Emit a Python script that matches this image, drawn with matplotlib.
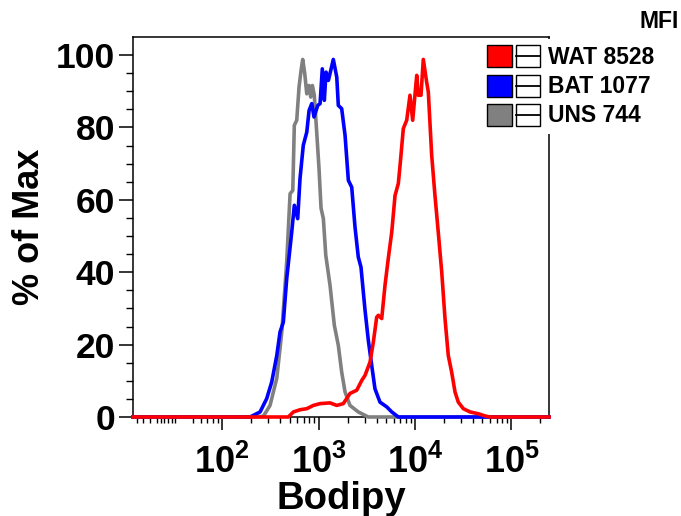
# Bodipy staining histogram (WAT / BAT / unstained), biexponential-style x axis

import numpy as np
import matplotlib.pyplot as plt
from matplotlib.patches import Rectangle
from matplotlib.lines import Line2D

plt.rcParams['font.family'] = ['Liberation Sans', 'DejaVu Sans']
plt.rcParams['font.weight'] = 'bold'
plt.rcParams['mathtext.fontset'] = 'custom'
plt.rcParams['mathtext.rm'] = 'Liberation Sans:bold'
plt.rcParams['mathtext.bf'] = 'Liberation Sans:bold'

# histogram range of the Bodipy channel
x_lo, x_hi = -89, 2.45e5

# samples, colours and MFI values
groups = ["WAT", "BAT", "UNS"]
colors = ["#ff0000", "#0000ff", "#808080"]
mfi    = [8528, 1077, 744]

# unstained control: log10(Bodipy) and % of max
uns_log = [2.290, 2.428, 2.497, 2.567, 2.619, 2.670, 2.705, 2.733, 2.749, 2.774,
           2.798, 2.819, 2.836, 2.857, 2.878, 2.902, 2.919, 2.936, 2.956, 2.981,
           3.005, 3.026, 3.050, 3.075, 3.119, 3.164, 3.205, 3.240, 3.275, 3.326,
           3.412, 3.516]
uns_pct = [0.0, 0.2, 3.2, 10.7, 23.5, 42.8, 61.7, 62.6, 80.6, 82.0,
           91.2, 95.8, 98.8, 94.9, 89.3, 91.6, 88.4, 91.6, 88.9, 78.7,
           68.6, 57.7, 54.8, 44.7, 36.4, 25.3, 19.8, 12.4, 6.9, 3.2,
           1.4, 0.0]

# brown adipose tissue
bat_log = [2.290, 2.394, 2.463, 2.515, 2.567, 2.601, 2.635, 2.670, 2.722, 2.749,
           2.784, 2.808, 2.842, 2.878, 2.902, 2.930, 2.953, 2.992, 3.016, 3.039,
           3.060, 3.078, 3.102, 3.119, 3.153, 3.189, 3.205, 3.240, 3.275, 3.309,
           3.344, 3.378, 3.412, 3.440, 3.482, 3.516, 3.551, 3.585, 3.637, 3.707,
           3.759, 3.827]
bat_pct = [0.0, 1.4, 5.1, 9.7, 17.0, 23.5, 26.2, 38.2, 51.1, 58.5,
           54.8, 65.9, 75.1, 78.7, 84.7, 86.6, 82.9, 86.1, 86.6, 96.2,
           87.5, 95.3, 93.0, 94.9, 98.8, 93.9, 86.1, 85.2, 77.8, 65.4,
           63.5, 52.5, 44.2, 41.4, 29.5, 21.2, 14.3, 7.8, 4.1, 2.8,
           1.4, 0.0]

# white adipose tissue
wat_log = [2.687, 2.739, 2.808, 2.878, 2.946, 3.016, 3.119, 3.189, 3.257, 3.326,
           3.396, 3.448, 3.482, 3.534, 3.568, 3.603, 3.620, 3.655, 3.689, 3.723,
           3.759, 3.793, 3.827, 3.845, 3.879, 3.914, 3.948, 3.976, 4.018, 4.034,
           4.062, 4.086, 4.121, 4.138, 4.173, 4.207, 4.241, 4.277, 4.311, 4.345,
           4.380, 4.415, 4.449, 4.501, 4.570, 4.656, 4.725, 4.777]
wat_pct = [0.0, 1.4, 2.0, 2.3, 3.2, 3.7, 3.9, 3.2, 3.7, 6.5,
           7.4, 10.1, 11.5, 15.2, 20.7, 27.6, 28.1, 27.2, 36.4, 43.8,
           51.1, 61.2, 64.5, 69.5, 79.7, 82.0, 88.9, 82.0, 94.4, 88.9,
           88.9, 98.8, 92.5, 89.8, 72.3, 61.2, 51.1, 40.1, 27.2, 17.0,
           12.4, 6.9, 4.1, 2.3, 1.4, 0.9, 0.3, 0.0]

x_major = [1e2, 1e3, 1e4, 1e5]
x_major_labels = [r"$\mathbf{10^{2}}$", r"$\mathbf{10^{3}}$",
                  r"$\mathbf{10^{4}}$", r"$\mathbf{10^{5}}$"]
y_major = [0, 20, 40, 60, 80, 100]

W, H = 681, 516
fig = plt.figure(figsize=(W / 100, H / 100), dpi=100)
ax = fig.add_axes([133 / W, 1 - 417 / H, 416 / W, 380 / H])


def full_range(logs, pct):
    # extend the histogram baseline over the whole channel range
    x = np.concatenate([[x_lo], np.power(10.0, logs), [x_hi]])
    y = np.concatenate([[0.0], pct, [0.0]])
    return x, y


series = {"UNS": (uns_log, uns_pct), "BAT": (bat_log, bat_pct), "WAT": (wat_log, wat_pct)}
for name in ["UNS", "BAT", "WAT"]:
    x, y = full_range(*series[name])
    ax.plot(x, y, color=colors[groups.index(name)], lw=2.6, solid_joinstyle="round",
            clip_on=False, zorder=3)

ax.set_xscale("symlog", linthresh=50, linscale=0.1674, base=10)
ax.set_xlim(x_lo, x_hi)
ax.set_ylim(0, 105)

# ticks
ax.set_xticks(x_major)
ax.set_xticklabels(x_major_labels)
minor = [-80, -70, -60, -50, -40, -30, -20, -10, 0, 50, 60, 70, 80, 90]
for dec in [1e2, 1e3, 1e4]:
    minor += [k * dec for k in range(2, 10)]
minor += [2e5]
ax.set_xticks(minor, minor=True)
ax.set_yticks(y_major)
ax.set_yticks(np.arange(0, 105, 5), minor=True)

ax.tick_params(axis="x", which="major", length=9, width=1.1, labelsize=26, pad=11)
ax.tick_params(axis="x", which="minor", length=4, width=1.0)
ax.tick_params(axis="y", which="major", length=10, width=1.1, labelsize=25.5, pad=3)
ax.tick_params(axis="y", which="minor", length=5, width=1.0)
ax.tick_params(top=False, right=False, which="both")
for s in ax.spines.values():
    s.set_linewidth(1.1)

ax.set_xlabel("Bodipy", fontsize=27.5, fontweight="bold", labelpad=0)
ax.set_ylabel("% of Max", fontsize=26, fontweight="bold", labelpad=6)


def fpos(x, y):
    # pixel position -> figure fraction
    return x / W, 1 - y / H


# legend block with MFI column
bg_x, bg_y = fpos(480, 134)
fig.patches.append(Rectangle((bg_x, bg_y), (W - 480) / W, 95 / H, transform=fig.transFigure,
                             facecolor="white", edgecolor="none", zorder=5))
fig.text(*fpos(679, 22), "MFI", ha="right", va="center", fontsize=16.5, fontweight="bold",
         zorder=6)
for i, (name, col, val) in enumerate(zip(groups, colors, mfi)):
    yc = 56 + i * 29.5
    sx, sy = fpos(487, yc + 11)
    fig.patches.append(Rectangle((sx, sy), 25 / W, 22 / H, transform=fig.transFigure,
                                 facecolor=col, edgecolor="black", lw=1.0, zorder=6))
    bx, by = fpos(516, yc + 11)
    fig.patches.append(Rectangle((bx, by), 24 / W, 22 / H, transform=fig.transFigure,
                                 facecolor="white", edgecolor="black", lw=1.0, zorder=6))
    lx0, ly = fpos(516, yc)
    lx1, _ = fpos(540, yc)
    fig.lines.append(Line2D([lx0, lx1], [ly, ly], transform=fig.transFigure,
                            color="black", lw=1.3, zorder=7))
    fig.text(*fpos(548, yc + 1), f"{name} {val}", ha="left", va="center", fontsize=16.5,
             fontweight="bold", zorder=7)

fig.savefig("out.png", dpi=100)
